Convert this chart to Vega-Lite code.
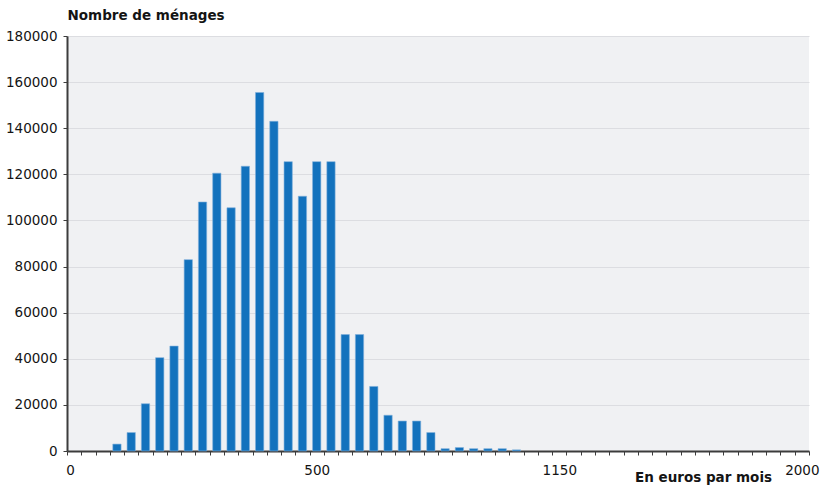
{
  "$schema": "https://vega.github.io/schema/vega-lite/v6.json",
  "width": 742,
  "height": 415,
  "autosize": "none",
  "padding": {"left": 67, "top": 36, "right": 15, "bottom": 34},
  "background": "white",
  "config": {
    "view": {"fill": "#f0f1f3", "stroke": null},
    "font": "DejaVu Sans"
  },
  "data": {
    "values": [
      {"classe": 3, "menages": 3000},
      {"classe": 4, "menages": 8000},
      {"classe": 5, "menages": 20500},
      {"classe": 6, "menages": 40500},
      {"classe": 7, "menages": 45500},
      {"classe": 8, "menages": 83000},
      {"classe": 9, "menages": 108000},
      {"classe": 10, "menages": 120500},
      {"classe": 11, "menages": 105500},
      {"classe": 12, "menages": 123500},
      {"classe": 13, "menages": 155500},
      {"classe": 14, "menages": 143000},
      {"classe": 15, "menages": 125500},
      {"classe": 16, "menages": 110500},
      {"classe": 17, "menages": 125500},
      {"classe": 18, "menages": 125500},
      {"classe": 19, "menages": 50500},
      {"classe": 20, "menages": 50500},
      {"classe": 21, "menages": 28000},
      {"classe": 22, "menages": 15500},
      {"classe": 23, "menages": 13000},
      {"classe": 24, "menages": 13000},
      {"classe": 25, "menages": 8000},
      {"classe": 26, "menages": 1000},
      {"classe": 27, "menages": 1500},
      {"classe": 28, "menages": 1000},
      {"classe": 29, "menages": 1000},
      {"classe": 30, "menages": 1000},
      {"classe": 31, "menages": 500}
    ]
  },
  "mark": {"type": "bar", "color": "#1372bd", "width": {"band": 0.58}, "stroke": "#7fb0dc", "strokeWidth": 0.6},
  "encoding": {
    "x": {
      "field": "classe",
      "type": "ordinal",
      "scale": {
        "domain": [0,1,2,3,4,5,6,7,8,9,10,11,12,13,14,15,16,17,18,19,20,21,22,23,24,25,26,27,28,29,30,31,32,33,34,35,36,37,38,39,40,41,42,43,44,45,46,47,48,49,50,51],
        "paddingInner": 0,
        "paddingOuter": 0
      },
      "axis": {
        "title": "En euros par mois",
        "labelAngle": 0,
        "tickBand": "extent",
        "labelExpr": "datum.value == 0 ? '0' : datum.value == 17 ? '500' : datum.value == 34 ? '1150' : datum.value == 51 ? '2000' : ''",
        "labelOffset": {"condition": {"test": "datum.value == 0", "value": -4}, "value": 0},
        "labelOverlap": false,
        "grid": false,
        "domainColor": "#3c3c3c",
        "domainWidth": 2,
        "tickColor": "#3c3c3c",
        "tickSize": 4,
        "tickWidth": 1,
        "labelFontSize": 13.5,
        "labelColor": "#141414",
        "labelPadding": 8,
        "titleX": 636,
        "titleY": 30,
        "titleAlign": "center",
        "titleBaseline": "alphabetic",
        "titleFontSize": 13.5,
        "titleFontWeight": "bold",
        "titleColor": "#141414"
      }
    },
    "y": {
      "field": "menages",
      "type": "quantitative",
      "scale": {"domain": [0, 180000], "nice": false},
      "axis": {
        "title": "Nombre de ménages",
        "values": [0, 20000, 40000, 60000, 80000, 100000, 120000, 140000, 160000, 180000],
        "format": "d",
        "gridColor": "#dcdde1",
        "gridWidth": 1,
        "domainColor": "#3c3c3c",
        "domainWidth": 2,
        "tickColor": "#3c3c3c",
        "tickSize": 4,
        "tickWidth": 1,
        "labelFontSize": 13.5,
        "labelColor": "#141414",
        "labelPadding": 6,
        "titleAngle": 0,
        "titleX": 0,
        "titleY": -17,
        "titleAlign": "left",
        "titleBaseline": "alphabetic",
        "titleFontSize": 13.5,
        "titleFontWeight": "bold",
        "titleColor": "#141414"
      }
    }
  }
}
